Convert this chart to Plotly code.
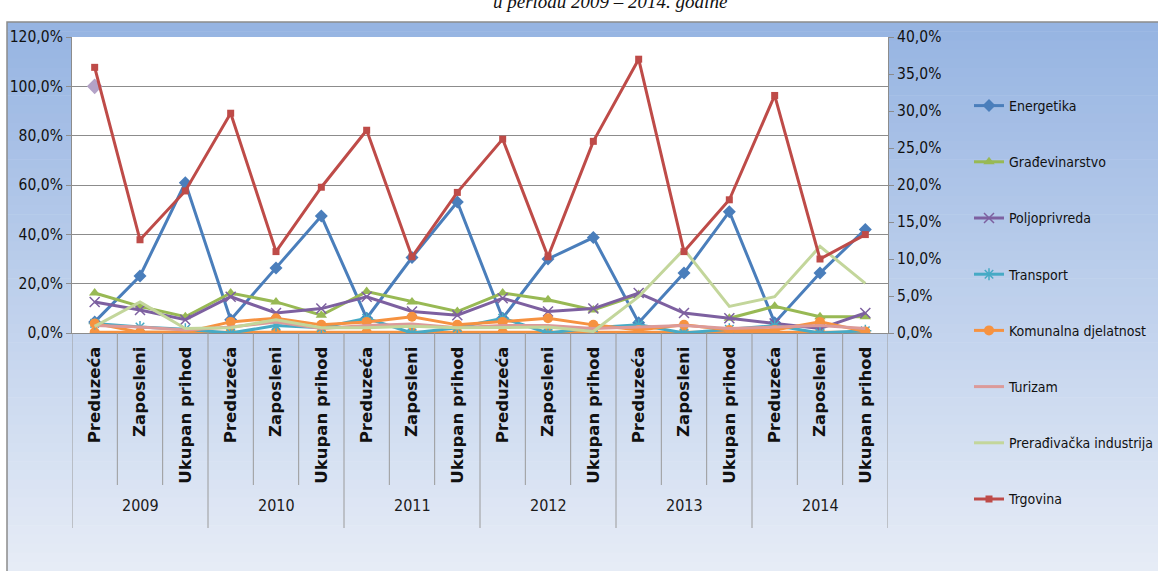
import plotly.graph_objects as go

# ---------------- data (shares) ----------------
years = ["2009", "2010", "2011", "2012", "2013", "2014"]
indicators = ["Preduzeća", "Zaposleni", "Ukupan prihod"]
categories = [ind for y in years for ind in indicators]

energetika = [0.015, 0.077, 0.203, 0.018, 0.088, 0.158, 0.020, 0.102, 0.177,
              0.020, 0.100, 0.129, 0.014, 0.081, 0.164, 0.014, 0.081, 0.140]
gradjevinarstvo = [0.054, 0.036, 0.022, 0.054, 0.042, 0.024, 0.056, 0.042, 0.029,
                   0.054, 0.045, 0.031, 0.052, None, 0.020, 0.036, 0.022, 0.022]
poljoprivreda = [0.042, 0.031, 0.018, 0.049, 0.027, 0.033, 0.049, 0.029, 0.024,
                 0.047, 0.029, 0.033, 0.054, 0.027, 0.020, 0.013, 0.006, 0.027]
transport = [0.013, 0.008, 0.005, 0.000, 0.010, 0.007, 0.020, 0.000, 0.007,
             0.020, 0.000, 0.007, 0.011, 0.000, 0.005, 0.010, 0.000, 0.003]
komunalna = [0.013, 0.001, 0.001, 0.015, 0.020, 0.011, 0.015, 0.022, 0.011,
             0.015, 0.020, 0.011, 0.004, 0.011, 0.004, 0.004, 0.015, 0.002]
komunalna_base = [0.001] * 18
turizam = [0.010, 0.008, 0.004, 0.008, 0.015, 0.006, 0.010, 0.012, 0.007,
           0.010, 0.010, 0.006, 0.008, 0.010, 0.006, 0.008, 0.010, 0.006]
preradjivacka = [0.009, 0.042, 0.006, 0.007, 0.018, 0.007, 0.007, 0.009, 0.007,
                 0.007, 0.008, 0.002, 0.049, 0.113, 0.036, 0.049, 0.117, 0.067]
trgovina = [0.359, 0.126, 0.192, 0.297, 0.110, 0.197, 0.274, 0.103, 0.190,
            0.262, 0.103, 0.259, 0.370, 0.110, 0.180, 0.321, 0.100, 0.133]
extra_point = [1.0]  # lone lavender marker on the left axis (2009 Preduzeća)

left_ticks = [0, 0.2, 0.4, 0.6, 0.8, 1.0, 1.2]
right_ticks = [0, 0.05, 0.10, 0.15, 0.20, 0.25, 0.30, 0.35, 0.40]

title_text = "u periodu 2009 – 2014. godine"

# ---------------- geometry helpers ----------------
W, H = 1158, 571
L, R, T, B = 72, 888, 37, 333


def pxx(x):
    return (x - L) / (R - L)


def pxy(y):
    return (B - y) / (B - T)


NARROW = "Liberation Sans Narrow, DejaVu Sans Condensed, Arial Narrow, sans-serif"
xs = list(range(len(categories)))

fig = go.Figure()

series = [
    ("Energetika", energetika, "#4a7ebb", dict(symbol="diamond", size=10, color="#4a7ebb")),
    ("Građevinarstvo", gradjevinarstvo, "#98b954", dict(symbol="triangle-up", size=10, color="#98b954")),
    ("Poljoprivreda", poljoprivreda, "#7d60a0",
     dict(symbol="x-thin-open", size=10, color="#7d60a0", line=dict(width=1.5, color="#7d60a0"))),
    ("Transport", transport, "#46aac5",
     dict(symbol="asterisk-open", size=10, color="#46aac5", line=dict(width=1.5, color="#46aac5"))),
    ("Komunalna djelatnost", komunalna, "#f69240", dict(symbol="circle", size=10, color="#f69240")),
    ("Turizam", turizam, "#dc9a99", None),
    ("Prerađivačka industrija", preradjivacka, "#c3d69b", None),
    ("Trgovina", trgovina, "#be4b48", dict(symbol="square", size=7, color="#be4b48")),
]

# background helper trace first (no legend)
fig.add_trace(go.Scatter(x=xs, y=komunalna_base, yaxis="y2", mode="lines+markers",
                         line=dict(color="#f69240", width=3),
                         marker=dict(symbol="circle", size=10, color="#f69240"),
                         showlegend=False, hoverinfo="skip"))

for name, vals, col, mk in series:
    fig.add_trace(go.Scatter(
        x=xs, y=vals, name=name, yaxis="y2", legendgroup=name,
        mode="lines+markers" if mk else "lines",
        line=dict(color=col, width=3),
        marker=mk if mk else None,
        connectgaps=False,
    ))

fig.add_trace(go.Scatter(x=[0], y=extra_point, mode="markers",
                         marker=dict(symbol="diamond", size=12, color="#b3a2c7"),
                         showlegend=False, hoverinfo="skip"))

# ---------------- shapes: gradient background, frame, dividers ----------------
shapes = []
top_px, bot_px = 22, 571
n = 60
c0 = (150, 180, 226)
c1 = (230, 236, 246)
for i in range(n):
    y0 = top_px + (bot_px - top_px) * i / n
    y1 = top_px + (bot_px - top_px) * (i + 1) / n + 0.6
    t = i / (n - 1)
    c = tuple(round(c0[k] + (c1[k] - c0[k]) * t) for k in range(3))
    shapes.append(dict(type="rect", xref="paper", yref="paper", layer="below",
                       x0=pxx(7), x1=pxx(1170), y0=pxy(y1), y1=pxy(y0),
                       fillcolor="rgb(%d,%d,%d)" % c, line=dict(width=0)))
shapes.append(dict(type="rect", xref="paper", yref="paper", layer="below",
                   x0=0, x1=1, y0=0, y1=1, fillcolor="white", line=dict(width=0)))
shapes.append(dict(type="rect", xref="paper", yref="paper", layer="below",
                   x0=pxx(7), x1=pxx(1175), y0=pxy(590), y1=pxy(top_px),
                   fillcolor="rgba(0,0,0,0)", line=dict(color="#8c8c8c", width=1.5)))
for i in range(len(categories) + 1):
    xb = i - 0.5
    is_year = (i % 3 == 0)
    shapes.append(dict(type="line", xref="x", yref="paper", layer="above",
                       x0=xb, x1=xb, y0=0, y1=pxy(528 if is_year else 485),
                       line=dict(color="#9a9a9a", width=1)))

annotations = []
for k, yr in enumerate(years):
    annotations.append(dict(x=3 * k + 1, xref="x", y=pxy(505), yref="paper",
                            text=yr, showarrow=False, yanchor="middle",
                            font=dict(family=NARROW, size=16, color="#1a1a1a")))
annotations.append(dict(x=pxx(610), xref="paper", y=pxy(14), yref="paper",
                        text="<i>" + title_text + "</i>", showarrow=False,
                        yanchor="bottom", xanchor="center",
                        font=dict(family="Liberation Serif, serif", size=19, color="#111")))

fig.update_layout(
    width=W, height=H,
    margin=dict(l=L, r=W - R, t=T, b=H - B, pad=0, autoexpand=False),
    paper_bgcolor="white", plot_bgcolor="white",
    separators=",.",
    shapes=shapes, annotations=annotations,
    xaxis=dict(range=[-0.5, len(categories) - 0.5], tickmode="array", tickvals=xs,
               ticktext=categories, tickangle=-90, showgrid=False, zeroline=False,
               showline=True, linecolor="#8c8c8c", linewidth=1, ticks="",
               ticklabelstandoff=6,
               tickfont=dict(family="DejaVu Sans", size=16.5, color="#111", weight="bold")),
    yaxis=dict(range=[0, 1.2], tickmode="array", tickvals=left_ticks, tickformat=".1%",
               showgrid=True, gridcolor="#8c8c8c", gridwidth=1.2, zeroline=False,
               showline=True, linecolor="#8c8c8c", ticks="outside", ticklen=5,
               tickcolor="#8c8c8c",
               tickfont=dict(family=NARROW, size=15.5, color="#111")),
    yaxis2=dict(range=[0, 0.4], tickmode="array", tickvals=right_ticks, tickformat=".1%",
                overlaying="y", side="right", showgrid=False, zeroline=False,
                showline=True, linecolor="#8c8c8c", ticks="outside", ticklen=5,
                tickcolor="#8c8c8c",
                tickfont=dict(family=NARROW, size=15.5, color="#111")),
    legend=dict(xref="container", yref="container", x=969 / W, y=1 - 90 / H,
                xanchor="left", yanchor="top", maxheight=1,
                bgcolor="rgba(0,0,0,0)", traceorder="grouped", tracegroupgap=35,
                itemwidth=30,
                font=dict(family=NARROW, size=14, color="#111")),
    showlegend=True,
)

fig.write_html("out.html", config={"displayModeBar": False},
               post_script="document.body.style.margin='0';")
